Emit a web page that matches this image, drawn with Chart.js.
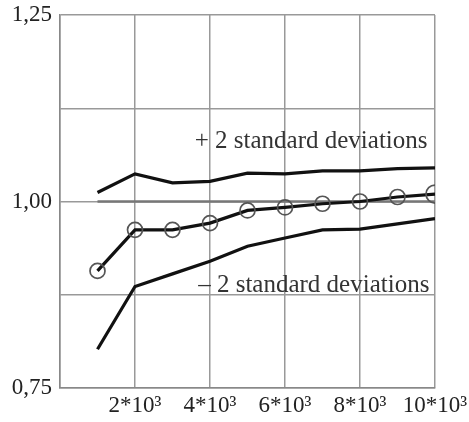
<!DOCTYPE html>
<html>
<head>
<meta charset="utf-8">
<script src="https://cdn.jsdelivr.net/npm/chart.js@4.4.0/dist/chart.umd.min.js"></script>
<style>
  html, body { margin: 0; padding: 0; background: #fff; }
  #wrap { width: 469px; height: 422px; position: relative; }
</style>
</head>
<body>
<div id="wrap"><canvas id="c"></canvas></div>
<script>
// ---- data ----
const xValues = [1000, 2000, 3000, 4000, 5000, 6000, 7000, 8000, 9000, 10000];
const upperValues = [1.012, 1.037, 1.025, 1.027, 1.038, 1.037, 1.041, 1.041, 1.044, 1.045];
const meanValues = [0.907, 0.962, 0.962, 0.971, 0.988, 0.992, 0.997, 1.000, 1.006, 1.010];
const lowerValues = [0.802, 0.886, 0.903, 0.920, 0.940, 0.951, 0.962, 0.963, 0.970, 0.977];
const meanRadii = [7.5, 7.5, 7.5, 7.5, 7.5, 7.5, 7.5, 7.5, 7.5, 9];
const referenceX = [1000, 10000];
const referenceY = [1.0, 1.0];
const yTickLabels = { "0.75": "0,75", "1": "1,00", "1.25": "1,25" };
const xTickLabels = { "2000": "2*10³", "4000": "4*10³", "6000": "6*10³", "8000": "8*10³", "10000": "10*10³" };
const annotations = [
  { text: "+ 2 standard deviations", x: 9800, y: 1.080 },
  { text: "\u2013 2 standard deviations", x: 9850, y: 0.888 }
];

const FONT = "'Liberation Serif', 'Times New Roman', serif";
const toPts = (xs, ys) => xs.map((x, i) => ({ x: x, y: ys[i] }));

const annotationPlugin = {
  id: 'annots',
  afterDatasetsDraw(chart) {
    const { ctx, scales } = chart;
    ctx.save();
    ctx.font = "25px " + FONT;
    ctx.fillStyle = "#333";
    ctx.textAlign = "right";
    ctx.textBaseline = "middle";
    annotations.forEach(a => {
      ctx.fillText(a.text, scales.x.getPixelForValue(a.x), scales.y.getPixelForValue(a.y));
    });
    ctx.restore();
  }
};

new Chart(document.getElementById('c'), {
  type: 'line',
  data: {
    datasets: [
      { data: toPts(referenceX, referenceY), borderColor: '#777', borderWidth: 2.5, pointRadius: 0, order: 5 },
      { data: toPts(xValues, upperValues), borderColor: '#111', borderWidth: 3.2, pointRadius: 0 },
      { data: toPts(xValues, lowerValues), borderColor: '#111', borderWidth: 3.2, pointRadius: 0 },
      { data: toPts(xValues, meanValues), borderColor: '#111', borderWidth: 3.2,
        pointRadius: meanRadii, pointBorderColor: '#555', pointBorderWidth: 1.7,
        pointBackgroundColor: 'rgba(0,0,0,0)' }
    ]
  },
  options: {
    responsive: true,
    maintainAspectRatio: false,
    animation: false,
    layout: { padding: 0 },
    plugins: { legend: { display: false }, tooltip: { enabled: false } },
    scales: {
      x: {
        type: 'linear', min: 0, max: 10000,
        border: { color: '#888', width: 1.5 },
        grid: { color: '#999', lineWidth: 1.5, drawTicks: false },
        ticks: {
          stepSize: 2000, padding: 4, maxRotation: 0, autoSkip: false,
          color: '#222', font: { family: FONT, size: 23 },
          callback: v => xTickLabels[String(v)] || ''
        },
        afterFit: s => { s.height = 34; s.paddingRight = 34; s.paddingLeft = 0; }
      },
      y: {
        type: 'linear', min: 0.75, max: 1.25,
        border: { color: '#888', width: 1.5 },
        grid: { color: '#999', lineWidth: 1.5, drawTicks: false },
        ticks: {
          stepSize: 0.125, padding: 8,
          color: '#222', font: { family: FONT, size: 23 },
          callback: v => yTickLabels[String(v)] || ''
        },
        afterFit: s => { s.width = 60; s.paddingTop = 15; s.paddingBottom = 0; }
      }
    }
  },
  plugins: [annotationPlugin]
});
</script>
</body>
</html>
